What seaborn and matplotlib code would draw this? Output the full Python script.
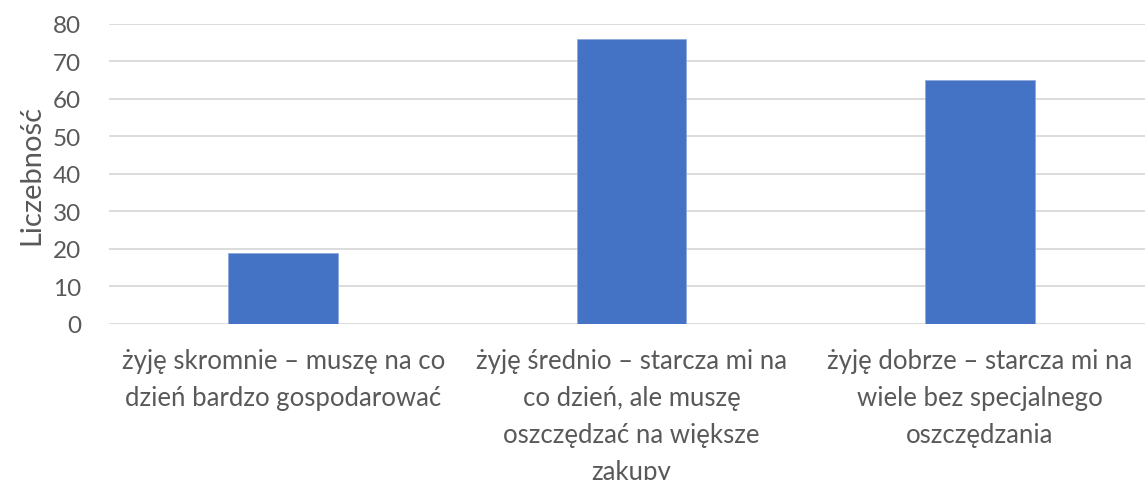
import matplotlib
matplotlib.use("Agg")
import matplotlib.pyplot as plt
import seaborn as sns
import pandas as pd

# Dane z wykresu
kategorie = [
    "żyję skromnie – muszę na co\ndzień bardzo gospodarować",
    "żyję średnio – starcza mi na\nco dzień, ale muszę\noszczędzać na większe\nzakupy",
    "żyję dobrze – starcza mi na\nwiele bez specjalnego\noszczędzania",
]
liczebnosc = [19, 76, 65]
y_ticks = [0, 10, 20, 30, 40, 50, 60, 70, 80]

sns.set_theme(style="white")
plt.rcParams['font.family'] = ['Lato', 'DejaVu Sans']

text_color = "#595959"
grid_color = "#d9d9d9"
bar_color = "#4472C4"

df = pd.DataFrame({"Kategoria": kategorie, "Liczebność": liczebnosc})

fig = plt.figure(figsize=(11.45, 4.81), dpi=100)
ax = fig.add_axes([109 / 1145, 1 - 325 / 481, 1045 / 1145, 300.5 / 481])

sns.barplot(data=df, x="Kategoria", y="Liczebność", color=bar_color,
            width=0.315, saturation=1, ax=ax, zorder=3,
            edgecolor="#8eaadb", linewidth=0.6)

ax.set_xlim(-0.5, 2.5)
ax.set_ylim(0, 80)
ax.set_yticks(y_ticks)
ax.yaxis.grid(True, color=grid_color, linewidth=1.3, zorder=0)
ax.set_axisbelow(True)
for s in ax.spines.values():
    s.set_visible(False)

ax.tick_params(axis="both", length=0, colors=text_color)
ax.tick_params(axis="y", pad=20, labelsize=17.5)
ax.tick_params(axis="x", pad=17, labelsize=18.5)
for lbl in ax.get_xticklabels():
    lbl.set_linespacing(1.6)
    lbl.set_va("top")

ax.set_xlabel("")
ax.set_ylabel("Liczebność", color=text_color, fontsize=21, labelpad=6)

fig.savefig("out.png", dpi=100)
